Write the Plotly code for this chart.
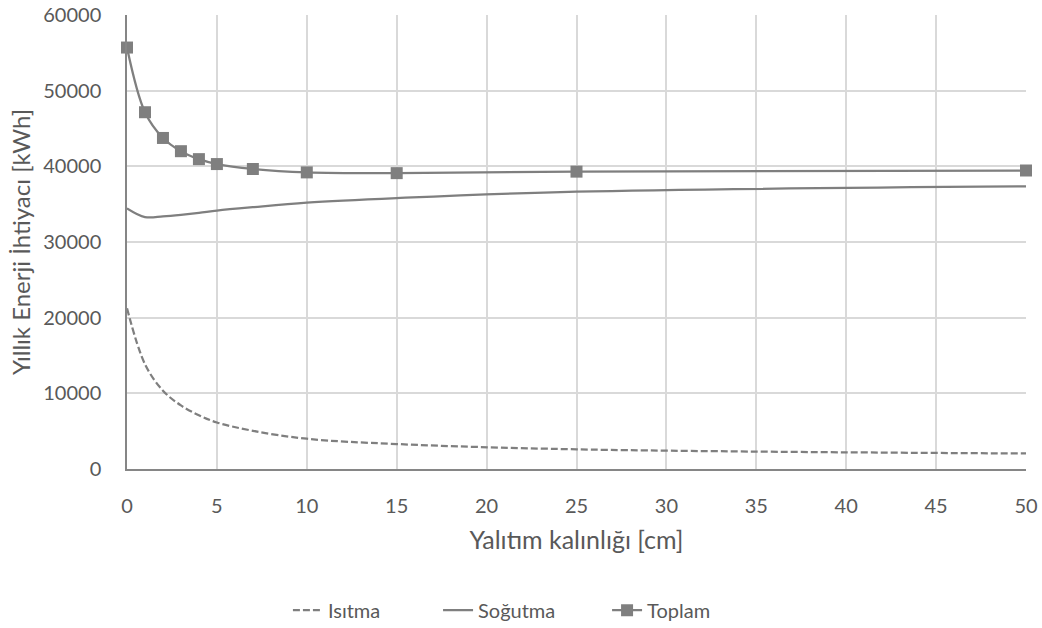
import plotly.graph_objects as go

thickness = [0, 1, 2, 3, 4, 5, 7, 10, 15, 25, 50]
isitma = [21250, 13850, 10350, 8400, 7100, 6150, 5050, 4000, 3300, 2600, 2050]
sogutma = [34450, 33300, 33400, 33600, 33850, 34150, 34600, 35200, 35800, 36650, 37350]
toplam = [55700, 47150, 43750, 42000, 40950, 40300, 39650, 39200, 39100, 39300, 39450]

x_ticks = list(range(0, 51, 5))
y_ticks = list(range(0, 60001, 10000))

GRAY = "#7f7f7f"
TEXT = "#595959"
FONT = "Lato"

fig = go.Figure()
fig.add_trace(go.Scatter(x=thickness, y=isitma, name="Isıtma", mode="lines", legend="legend",
                         line=dict(color=GRAY, width=2.25, dash="7px,3px", shape="spline", smoothing=1.0)))
fig.add_trace(go.Scatter(x=thickness, y=sogutma, name="Soğutma", mode="lines", legend="legend2",
                         line=dict(color=GRAY, width=2.25, shape="spline", smoothing=1.0)))
fig.add_trace(go.Scatter(x=thickness, y=toplam, name="Toplam", mode="lines+markers", legend="legend3",
                         line=dict(color=GRAY, width=2.25, shape="spline", smoothing=1.0),
                         marker=dict(symbol="square", size=12, color=GRAY),
                         cliponaxis=False))

leg_common = dict(orientation="h", y=-0.311, yanchor="middle", xanchor="left",
                  font=dict(size=20, color=TEXT), bgcolor="rgba(0,0,0,0)")

fig.update_layout(
    width=1042, height=628,
    margin=dict(l=127, r=16, t=15, b=159, autoexpand=False),
    paper_bgcolor="white", plot_bgcolor="white",
    font=dict(family=FONT, size=20, color=TEXT),
    showlegend=True,
    legend=dict(x=0.179, **leg_common),
    legend2=dict(x=0.346, **leg_common),
    legend3=dict(x=0.534, **leg_common),
)
fig.update_xaxes(range=[0, 50], tickvals=x_ticks, ticktext=[str(v) for v in x_ticks],
                 showgrid=True, gridcolor="#d9d9d9", gridwidth=1.5,
                 showline=True, linecolor="#868686", linewidth=1.5,
                 ticks="", zeroline=False, ticklabelstandoff=18,
                 tickfont=dict(size=20, color=TEXT),
                 title=dict(text="Yalıtım kalınlığı [cm]", font=dict(size=25, color=TEXT), standoff=16))
fig.update_yaxes(range=[0, 60000], tickvals=y_ticks, ticktext=[str(v) for v in y_ticks],
                 showgrid=True, gridcolor="#d9d9d9", gridwidth=1.5,
                 showline=True, linecolor="#868686", linewidth=1.5,
                 ticks="", zeroline=False, ticklabelstandoff=20,
                 tickfont=dict(size=20, color=TEXT),
                 title=dict(text="Yıllık Enerji İhtiyacı [kWh]", font=dict(size=24, color=TEXT), standoff=6))

fig.write_html("out.html")
